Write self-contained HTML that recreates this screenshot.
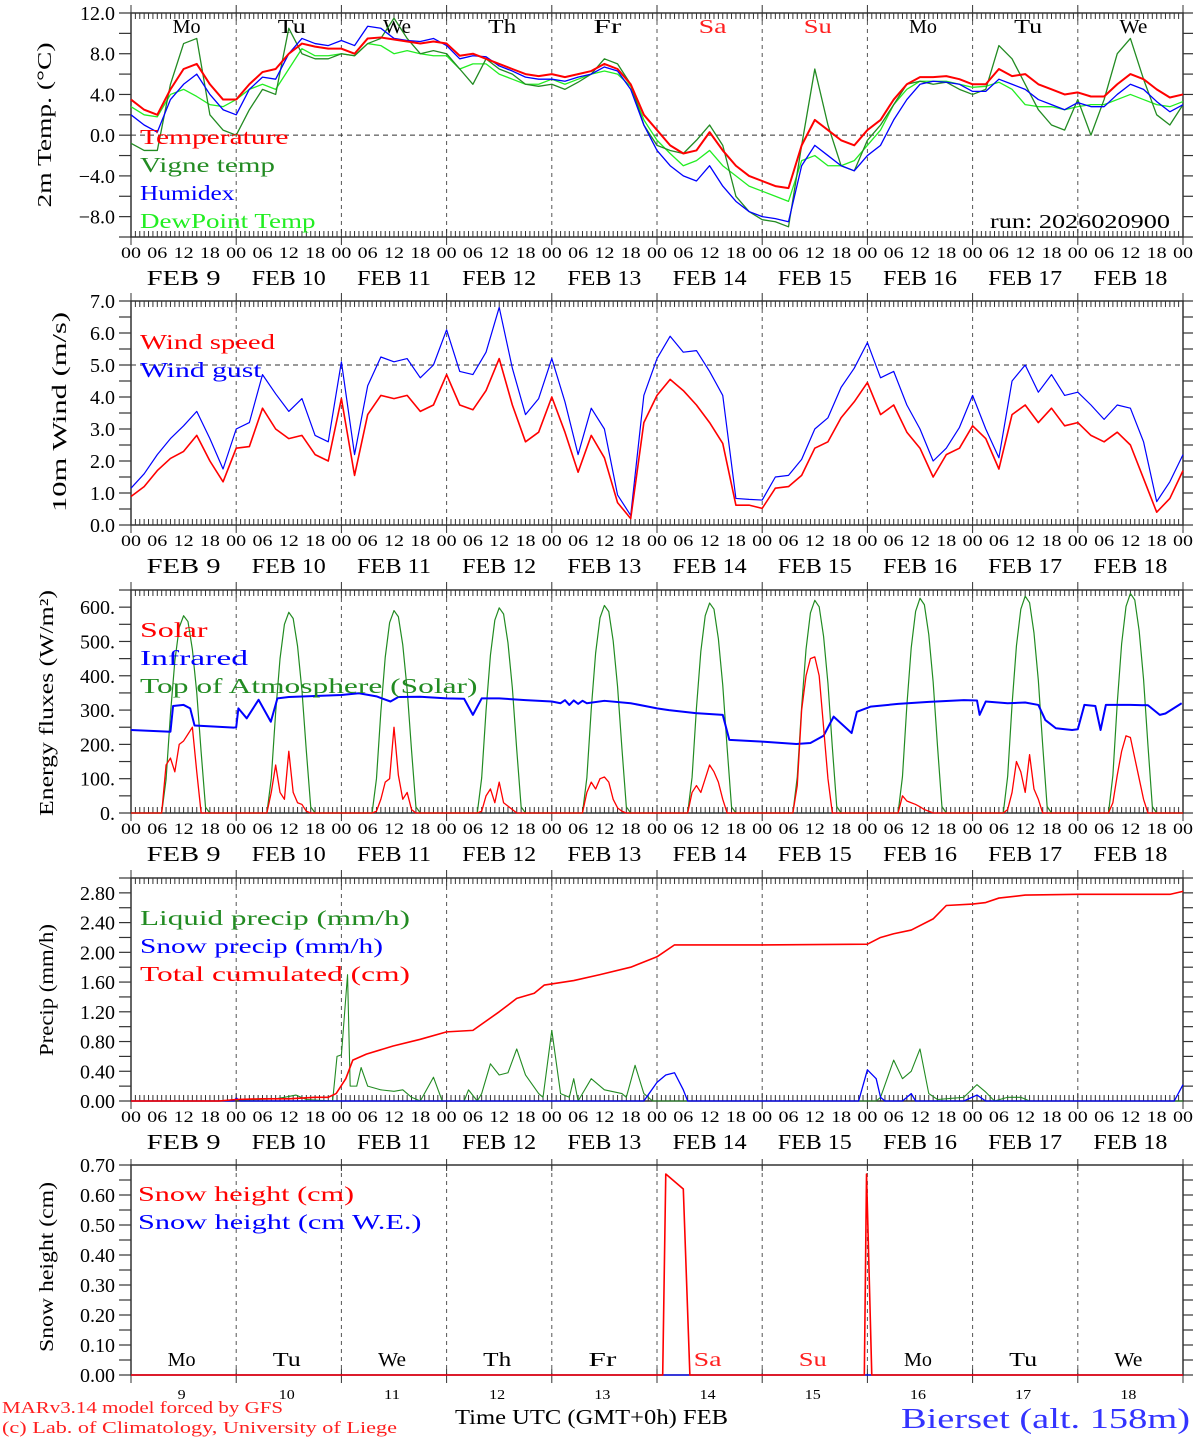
<!DOCTYPE html>
<html><head><meta charset="utf-8"><style>
html,body{margin:0;padding:0;background:#fff;}
svg{display:block;}
text{font-family:"Liberation Serif","DejaVu Serif",serif;}
</style></head><body>
<svg id="c" width="1194" height="1440" viewBox="0 0 1194 1440" xmlns="http://www.w3.org/2000/svg"></svg>
<script>
// ---------- DATA ----------
const dayNames = ["Mo","Tu","We","Th","Fr","Sa","Su","Mo","Tu","We"];
const dayNums = ["9","10","11","12","13","14","15","16","17","18"];
const hourLabels = ["00","06","12","18"];
// 3-hourly series (t = i*3 h from FEB 9 00 UTC)
const temperature = [3.5,2.5,2.0,4.5,6.5,7.0,5.0,3.5, 3.5,5.0,6.2,6.5,8.0,9.0,8.7,8.5, 8.5,8.0,9.5,9.6,9.4,9.2,9.0,9.2, 9.0,7.8,8.0,7.5,7.0,6.5,6.0,5.8, 6.0,5.7,6.0,6.3,7.0,6.5,5.0,2.0, 0.5,-1.0,-1.8,-1.5,0.3,-1.5,-3.0,-4.0, -4.5,-5.0,-5.2,-1.0,1.5,0.5,-0.5,-1.0, 0.5,1.5,3.5,5.0,5.7,5.7,5.8,5.5, 5.0,5.0,6.5,5.8,6.0,5.0,4.5,4.0, 4.2,3.8,3.8,5.0,6.0,5.5,4.5,3.7, 4.0];
const vigneTemp = [-0.8,-1.5,-1.5,5.0,9.0,9.5,2.0,0.5, 0.0,2.5,4.5,4.0,10.5,8.0,7.5,7.5, 8.0,7.8,9.0,9.5,11.5,9.5,8.0,8.3, 8.0,6.5,5.0,7.5,6.5,6.0,5.0,4.8, 5.0,4.5,5.2,6.0,7.5,7.0,5.0,1.0, -1.0,-1.5,-1.8,-0.5,1.0,-1.0,-6.0,-7.5, -8.3,-8.5,-9.0,-1.0,6.5,1.0,-3.0,-3.5, -0.5,1.0,3.0,5.0,5.3,5.0,5.2,4.5, 4.0,4.5,8.8,7.5,5.0,2.5,1.0,0.5, 3.5,0.0,3.5,8.0,9.5,5.5,2.0,1.0, 3.0];
const humidex = [2.0,1.0,0.3,3.5,5.0,6.0,4.0,2.5, 2.0,4.5,5.7,5.5,8.0,9.5,9.0,8.8, 9.3,8.8,10.7,10.5,9.5,9.3,9.2,9.5, 8.8,7.5,7.8,7.7,6.8,6.3,5.7,5.5, 5.5,5.3,5.7,6.0,6.7,6.3,4.5,1.0, -1.5,-3.0,-4.0,-4.5,-3.0,-5.0,-6.5,-7.5, -8.0,-8.2,-8.5,-3.0,-1.0,-2.0,-3.0,-3.5, -2.0,-1.0,1.5,3.5,5.0,5.3,5.2,5.0, 4.3,4.3,5.5,5.0,4.5,3.5,3.0,2.5, 3.2,2.8,2.8,4.0,5.0,4.5,3.3,2.3, 3.0];
const dewPoint = [2.8,2.0,1.8,4.0,4.5,3.8,3.0,2.8, 3.5,4.5,5.0,4.5,6.5,8.5,7.8,7.8, 8.0,7.8,9.0,8.8,8.0,8.3,8.0,7.8, 7.8,6.5,7.0,7.0,6.0,5.5,5.0,5.0, 5.5,5.0,5.5,6.0,6.3,6.0,4.8,1.5, -0.5,-1.8,-3.0,-2.5,-1.5,-3.0,-4.0,-5.0, -5.5,-6.0,-6.5,-2.5,-2.0,-3.0,-3.0,-2.5, -1.0,0.5,3.0,4.5,5.3,5.3,5.3,5.0, 4.7,4.8,5.2,4.5,3.0,2.8,2.8,2.5, 2.8,3.0,3.0,3.5,4.0,3.5,3.0,2.8, 3.3];
const windSpeed = [0.89,1.2,1.7,2.08,2.3,2.8,2.0,1.35, 2.4,2.45,3.65,3.0,2.7,2.8,2.2,2.0, 3.95,1.55,3.45,4.05,3.95,4.05,3.55,3.75, 4.7,3.75,3.6,4.2,5.2,3.75,2.6,2.9, 4.0,2.9,1.65,2.8,2.1,0.7,0.2,3.2, 4.05,4.55,4.2,3.75,3.2,2.55,0.62,0.62, 0.52,1.15,1.2,1.55,2.4,2.6,3.35,3.85, 4.45,3.45,3.75,2.9,2.4,1.5,2.2,2.4, 3.1,2.7,1.75,3.45,3.75,3.2,3.65,3.1, 3.2,2.8,2.6,2.9,2.5,1.45,0.4,0.83, 1.7];
const windGust = [1.15,1.6,2.2,2.7,3.1,3.55,2.7,1.75, 3.0,3.2,4.7,4.1,3.55,3.95,2.8,2.6, 5.1,2.2,4.35,5.25,5.1,5.2,4.6,5.0, 6.1,4.8,4.7,5.4,6.8,4.9,3.45,3.95, 5.2,3.85,2.2,3.65,3.0,0.94,0.3,4.05, 5.2,5.9,5.4,5.45,4.8,4.05,0.83,0.8, 0.78,1.5,1.55,2.05,3.0,3.35,4.3,4.9, 5.7,4.6,4.8,3.75,3.0,2.0,2.4,3.05, 4.05,3.0,2.1,4.5,5.0,4.15,4.7,4.05, 4.15,3.75,3.3,3.75,3.65,2.6,0.73,1.35, 2.2];
// Energy: hourly values for hours 7..18 of each day
const radHours = [7,8,9,10,11,12,13,14,15,16,17,18];
const toaDay9  = [0,98,288,443,541,575,558,477,351,178,17,0];
const toaDay10 = [0,100,293,450,550,585,567,486,357,181,18,0];
const toaDay11 = [0,100,295,454,555,590,572,490,360,183,18,0];
const toaDay12 = [0,102,299,460,562,598,580,496,365,185,18,0];
const toaDay13 = [0,103,303,466,569,605,587,502,369,188,18,0];
const toaDay14 = [0,104,306,471,575,612,594,508,373,190,18,0];
const toaDay15 = [0,105,310,477,583,620,601,515,378,192,19,0];
const toaDay16 = [0,106,313,482,588,626,607,520,382,194,19,0];
const toaDay17 = [0,107,316,487,594,632,613,525,386,196,19,0];
const toaDay18 = [0,109,320,493,602,640,621,531,390,198,19,0];
const solarDay9  = [0,140,160,120,200,210,230,250,120,0,0,0];
const solarDay10 = [0,60,140,60,40,180,60,30,25,5,0,0];
const solarDay11 = [0,5,40,90,100,250,110,40,60,10,0,0];
const solarDay12 = [0,5,50,70,30,90,30,20,10,0,0,0];
const solarDay13 = [0,60,90,70,100,105,90,40,15,5,0,0];
const solarDay14 = [0,60,80,60,100,140,120,90,40,0,0,0];
const solarDay15 = [0,80,300,400,450,455,400,250,100,0,0,0];
const solarDay16 = [0,50,35,30,25,18,10,5,0,0,0,0];
const solarDay17 = [0,10,60,150,120,60,170,70,40,0,0,0];
const solarDay18 = [0,30,110,180,225,220,160,100,40,0,0,0];
const irHours = [0,9,9.6,12,13.5,14.5,23.5,24,24.5,26.4,29.1,31.9,33.4,36,42,48,52,56,59.2,61,66,72,76,78,80,84,90,96,98,99,100,101,102,103,104,108,114,118,120,122.7,128.8,135,136.5,144,151.8,155,158,160.3,164.4,165.6,168.7,175,182,190,193,193.6,195,200,204,207,208.6,211,214.7,216,217.5,220,221.2,222.4,228,232,234.7,236,239.7];
const irVals  = [242,237,312,315,305,255,249,250,305,276,330,266,334,338,341,344,349,340,325,338,339,334,333,286,334,334,329,325,320,329,315,328,318,327,320,327,320,310,305,300,291,286,213,208,201,204,225,281,233,295,310,318,324,329,328,286,325,320,322,315,271,247,242,244,315,312,242,315,315,314,286,290,320];
// Precip
const cumHours = [0,20,24,30,36,42,45,46.8,49,50.6,53.7,59.8,66,72,78,84,88,92,94.3,101,107,114,120,124,144,168,171,174,178,183,186,192,195,198,204,216,237,240];
const cumVals  = [0,0,0.02,0.03,0.03,0.05,0.05,0.10,0.30,0.55,0.63,0.74,0.83,0.93,0.95,1.20,1.38,1.45,1.56,1.62,1.70,1.80,1.94,2.10,2.10,2.11,2.20,2.25,2.30,2.45,2.63,2.65,2.67,2.73,2.77,2.78,2.78,2.82];
const liqHours = [0,20,24,29,33,35,37.6,40,46,47,48,49.4,50,51.5,52.5,54,57,60,62,64,66,69,71,76,77,79,80,82,84,86,88,90,93,94,96,98,100,101,102,105,108,112,113,115,117,119,170,171,174,176,178,180,182,184,190,193,195,197,200,203,205,240];
const liqVals  = [0,0,0.01,0.02,0.03,0.05,0.08,0.02,0,0.6,0.62,1.7,0.2,0.2,0.45,0.2,0.15,0.13,0.15,0.05,0,0.32,0,0,0.15,0,0.1,0.5,0.35,0.38,0.7,0.35,0.1,0.05,0.95,0.1,0.05,0.3,0,0.3,0.15,0.1,0.05,0.48,0.1,0,0,0.05,0.55,0.3,0.4,0.7,0.1,0.02,0.05,0.22,0.12,0,0.05,0.05,0,0];
const snowHours = [0,23.5,24,25,117,120,122,124,126,127,166,168,170,171,172,176,178,179,190,193,195,238,240];
const snowVals  = [0,0,0.04,0,0,0.25,0.35,0.38,0.15,0,0,0.42,0.3,0.05,0,0,0.1,0,0,0.08,0,0,0.22];
// Snow height
const shHours = [0,121.3,122,126,127.5,167.3,167.8,169,240];
const shVals  = [0,0,0.67,0.62,0,0,0.67,0,0];
const shWeHours = [0,240];
const shWeVals = [0,0];

// ---------- DRAW ----------
const NS="http://www.w3.org/2000/svg";
const svg=document.getElementById('c');
const X0=131, X1=1183;
function xh(h){return X0+h*(X1-X0)/240;}
function el(tag,attrs,parent){const e=document.createElementNS(NS,tag);for(const k in attrs)e.setAttribute(k,attrs[k]);(parent||svg).appendChild(e);return e;}
function txt(x,y,s,o,parent){o=o||{};const t=el('text',{x:x,y:y,'font-size':o.size||20,fill:o.fill||'#000','text-anchor':o.anchor||'start'},parent);
 if(o.len){t.setAttribute('textLength',o.len);t.setAttribute('lengthAdjust','spacingAndGlyphs');}
 if(o.rot)t.setAttribute('transform','rotate(-90 '+x+' '+y+')');
 if(o.weight)t.setAttribute('font-weight',o.weight);
 t.textContent=s;return t;}

function makePanel(p){
 const g=el('g',{});
 
 
 const ys=v=>p.bot-(v-p.ymin)*(p.bot-p.top)/(p.ymax-p.ymin);
 p.ys=ys;p.g=g;
 for(let d=1;d<10;d++){const l=el('line',{x1:xh(d*24),x2:xh(d*24),y1:p.top,y2:p.bot,stroke:'#555','stroke-width':1,'stroke-dasharray':'4,4'},g);
  }
 if(p.dashY!==undefined){const l=el('line',{x1:X0,x2:X1,y1:ys(p.dashY),y2:ys(p.dashY),stroke:'#333','stroke-width':1,'stroke-dasharray':'5,4'},g);
  }
 const r=el('rect',{x:X0,y:p.top,width:X1-X0,height:p.bot-p.top,fill:'none',stroke:'#333','stroke-width':1.5},g);
 
 for(let v=p.ymin;v<=p.ymax+1e-9;v+=p.minor){const y=ys(v);
  el('line',{x1:X0-12,x2:X0,y1:y,y2:y,stroke:'#333','stroke-width':1.2},g);
  el('line',{x1:X1,x2:X1+10,y1:y,y2:y,stroke:'#333','stroke-width':1.2},g);}
 p.labels.forEach(v=>{const t=txt(115,ys(v)+7,p.fmt(v),{size:20,anchor:'end'},g);
  });
 if(p.hourTicks){
  for(let h=0;h<=240;h++){const x=xh(h);const big=h%24===0;
   el('line',{x1:x,x2:x,y1:p.top-(big?8:0),y2:p.top+(big?8:6),stroke:'#333','stroke-width':1},g);
   el('line',{x1:x,x2:x,y1:p.bot-(big?8:6),y2:p.bot+(big?8:0),stroke:'#333','stroke-width':1},g);}
  for(let h=0;h<=240;h+=6){const t=txt(xh(h),p.bot+21,hourLabels[(h/6)%4],{size:16,anchor:'middle',len:20},g);
   }
  for(let d=0;d<10;d++){const s='FEB '+(dayNums[d].length<2?' ':'')+dayNums[d];
   const t=txt(xh(d*24+12),p.bot+48,s,{size:21,anchor:'middle',len:74},g);
   }
 } else {
  for(let d=0;d<=10;d++){const x=xh(d*24);
   el('line',{x1:x,x2:x,y1:p.top-6,y2:p.top+6,stroke:'#333','stroke-width':1},g);
   el('line',{x1:x,x2:x,y1:p.bot-6,y2:p.bot+8,stroke:'#333','stroke-width':1},g);}
 }
 const yt=txt(p.titleX,p.titleY,p.title,{size:20,anchor:'middle',rot:true,len:p.titleLen},g);
 
 return p;
}
function series(p,hours,vals,color,w,name){
 let d='';vals.forEach((v,i)=>{d+=(i?'L':'M')+xh(hours[i]).toFixed(2)+','+p.ys(v).toFixed(2);});
 const path=el('path',{d:d,fill:'none',stroke:color,'stroke-width':w,'stroke-linejoin':'round'},p.g);
 
 
 return path;
}
function legend(p,items,x,y0,dy){items.forEach((it,i)=>{const t=txt(x,y0+i*dy,it[0],{size:21,fill:it[1],len:it[0].length*13.5},p.g);
 });}
const t3=temperature.map((_,i)=>i*3);

// Panel 1
const p1=makePanel({name:'temperature-panel',top:13,bot:237,ymin:-10,ymax:12,minor:2,labels:[-8,-4,0,4,8,12],fmt:v=>v.toFixed(1).replace('-','\u2212'),dashY:0,hourTicks:true,title:'2m Temp. (\u00B0C)',titleX:51,titleY:125,titleLen:165});
dayNames.forEach((n,d)=>{const t=txt(xh(d*24+12)+3,33,n,{size:20,anchor:'middle',fill:(d==5||d==6)?'#ff2020':'#000',len:28},p1.g);
 });
series(p1,t3,dewPoint,'#22ee22',1.3,'dewpoint-line');
series(p1,t3,vigneTemp,'#228b22',1.3,'vigne-temp-line');
series(p1,t3,humidex,'#0000ff',1.3,'humidex-line');
series(p1,t3,temperature,'#ff0000',2,'temperature-line');
legend(p1,[['Temperature','#ff0000'],['Vigne temp','#228b22'],['Humidex','#0000ff'],['DewPoint Temp','#22ee22']],140,144,28);
{const t=txt(1170,228,'run: 2026020900',{size:20,anchor:'end',len:180},p1.g);}

// Panel 2
const p2=makePanel({name:'wind-panel',top:301,bot:525,ymin:0,ymax:7,minor:0.5,labels:[0,1,2,3,4,5,6,7],fmt:v=>v.toFixed(1),dashY:5,hourTicks:true,title:'10m Wind (m/s)',titleX:66,titleY:412,titleLen:200});
series(p2,t3,windGust,'#0000ff',1.2,'wind-gust-line');
series(p2,t3,windSpeed,'#ff0000',1.6,'wind-speed-line');
legend(p2,[['Wind speed','#ff0000'],['Wind gust','#0000ff']],140,349,28);

// Panel 3
const p3=makePanel({name:'energy-panel',top:590,bot:813,ymin:0,ymax:650,minor:50,labels:[0,100,200,300,400,500,600],fmt:v=>v+'.',hourTicks:true,title:'Energy fluxes (W/m\u00B2)',titleX:53,titleY:703,titleLen:226});
const toaDays=[toaDay9,toaDay10,toaDay11,toaDay12,toaDay13,toaDay14,toaDay15,toaDay16,toaDay17,toaDay18];
const solDays=[solarDay9,solarDay10,solarDay11,solarDay12,solarDay13,solarDay14,solarDay15,solarDay16,solarDay17,solarDay18];
function flatten(days){const h=[],v=[];days.forEach((arr,d)=>{arr.forEach((val,i)=>{h.push(d*24+radHours[i]);v.push(val);});});
 h.unshift(0);v.unshift(0);h.push(240);v.push(0);return [h,v];}
const toaF=flatten(toaDays), solF=flatten(solDays);
series(p3,toaF[0],toaF[1],'#228b22',1.2,'toa-solar-line');
series(p3,irHours,irVals,'#0000ff',2,'infrared-line');
series(p3,solF[0],solF[1],'#ff0000',1.3,'solar-line');
legend(p3,[['Solar','#ff0000'],['Infrared','#0000ff'],['Top of Atmosphere (Solar)','#228b22']],140,637,28);

// Panel 4
const p4=makePanel({name:'precip-panel',top:878,bot:1101,ymin:0,ymax:3.0,minor:0.2,labels:[0,0.4,0.8,1.2,1.6,2.0,2.4,2.8],fmt:v=>v.toFixed(2),hourTicks:true,title:'Precip (mm/h)',titleX:53,titleY:990,titleLen:132});
series(p4,liqHours,liqVals,'#228b22',1.1,'liquid-precip-line');
series(p4,snowHours,snowVals,'#0000ff',1.3,'snow-precip-line');
series(p4,cumHours,cumVals,'#ff0000',1.6,'cumulated-precip-line');
legend(p4,[['Liquid precip (mm/h)','#228b22'],['Snow precip (mm/h)','#0000ff'],['Total cumulated (cm)','#ff0000']],140,925,28);

// Panel 5
const p5=makePanel({name:'snow-height-panel',top:1165,bot:1375,ymin:0,ymax:0.7,minor:0.05,labels:[0,0.1,0.2,0.3,0.4,0.5,0.6,0.7],fmt:v=>v.toFixed(2),hourTicks:false,title:'Snow height (cm)',titleX:53,titleY:1267,titleLen:170});
dayNames.forEach((n,d)=>{const t=txt(xh(d*24+12)-2,1366,n,{size:20,anchor:'middle',fill:(d==5||d==6)?'#ff2020':'#000',len:28},p5.g);
 });
dayNums.forEach((n,d)=>{const t=txt(xh(d*24+12)-2,1399,n,{size:14,anchor:'middle',len:n.length*8},p5.g);
 });
series(p5,shWeHours,shWeVals,'#0000ff',1.3,'snow-height-we-line');
series(p5,shHours,shVals,'#ff0000',1.6,'snow-height-line');
legend(p5,[['Snow height (cm)','#ff0000'],['Snow height (cm W.E.)','#0000ff']],138,1201,28);

// Footer
{let t=txt(455,1424,'Time UTC (GMT+0h) FEB',{size:21,len:273});
 t=txt(2,1413,'MARv3.14 model forced by GFS',{size:17,fill:'#ff2020',len:281});
 t=txt(2,1433,'(c) Lab. of Climatology, University of Liege',{size:17,fill:'#ff2020',len:395});
 t=txt(901,1428,'Bierset (alt. 158m)',{size:28,fill:'#3333ff',len:289});}
</script>
</body></html>
